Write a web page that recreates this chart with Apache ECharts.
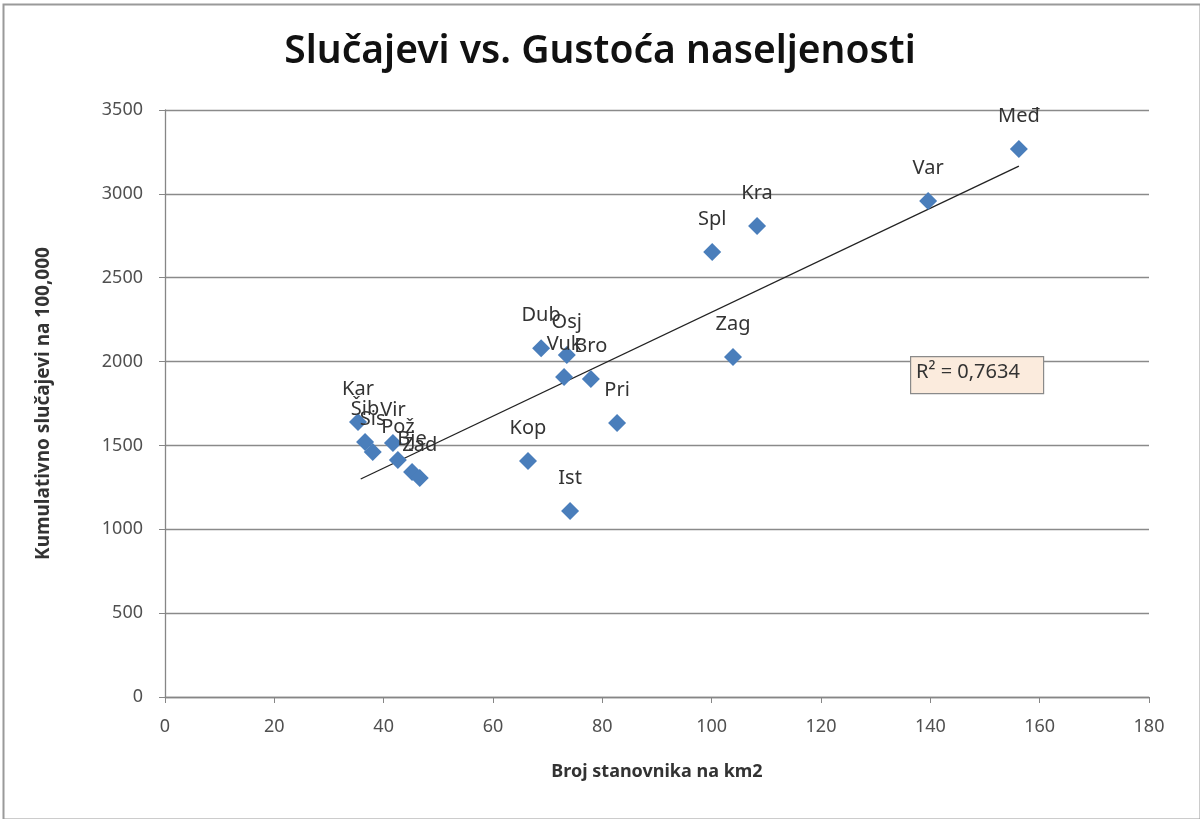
<!DOCTYPE html>
<html>
<head>
<meta charset="utf-8">
<script src="https://cdn.jsdelivr.net/npm/echarts@6/dist/echarts.min.js"></script>
<style>
html,body{margin:0;padding:0;background:#fff;}
#c{width:1200px;height:819px;}
</style>
</head>
<body>
<div id="c"></div>
<script>
const names   = ['Kar','Šib','Sis','Vir','Pož','Bje','Zad','Kop','Dub','Vuk','Osj','Ist','Bro','Pri','Spl','Zag','Kra','Var','Međ'];
const density = [35.3, 36.6, 38.0, 41.7, 42.6, 45.2, 46.6, 66.4, 68.8, 73.0, 73.5, 74.1, 77.9, 82.7, 100.1, 103.9, 108.3, 139.6, 156.2];
const cases   = [1640, 1520, 1461, 1515, 1413, 1342, 1306, 1407, 2080, 1908, 2039, 1109, 1896, 1634, 2653, 2027, 2808, 2957, 3267];
const trendX  = [35.8, 156.2];
const trendY  = [1300, 3165];
const xTicks  = [0, 20, 40, 60, 80, 100, 120, 140, 160, 180];
const yTicks  = [0, 500, 1000, 1500, 2000, 2500, 3000, 3500];
const r2Text  = 'R² = 0,7634';

const chart = echarts.init(document.getElementById('c'));
const font = 'Noto Sans';
const pts = names.map((n, i) => ({ name: n, value: [density[i], cases[i]] }));

chart.setOption({
  animation: false,
  backgroundColor: '#fff',
  title: {
    text: 'Slučajevi vs. Gustoća naseljenosti',
    left: 'center', top: 27,
    textStyle: { fontFamily: font, fontSize: 39, fontWeight: 600, color: '#111' }
  },
  grid: { left: 165, right: 51, top: 110, bottom: 122 },
  xAxis: {
    type: 'value', min: xTicks[0], max: xTicks[xTicks.length - 1], interval: 20,
    name: 'Broj stanovnika na km2', nameLocation: 'middle', nameGap: 66,
    nameTextStyle: { fontFamily: font, fontSize: 18, fontWeight: 'bold', color: '#333' },
    axisLine: { lineStyle: { color: '#868686', width: 1.3 } },
    axisTick: { show: true, length: 6, lineStyle: { color: '#868686' } },
    axisLabel: { fontFamily: font, fontSize: 18, color: '#505050', margin: 21, formatter: v => String(v) },
    splitLine: { show: false }
  },
  yAxis: {
    type: 'value', min: yTicks[0], max: yTicks[yTicks.length - 1], interval: 500,
    name: 'Kumulativno slučajevi na 100,000', nameLocation: 'middle', nameGap: 112,
    nameTextStyle: { fontFamily: font, fontSize: 19, fontWeight: 'bold', color: '#333' },
    axisLine: { show: true, lineStyle: { color: '#868686', width: 1.3 } },
    axisTick: { show: true, length: 6, lineStyle: { color: '#868686' } },
    axisLabel: { fontFamily: font, fontSize: 18, color: '#505050', margin: 22, formatter: v => String(v) },
    splitLine: { show: true, lineStyle: { color: '#8a8a8a', width: 1.3 } }
  },
  series: [
    {
      type: 'line',
      data: trendX.map((x, i) => [x, trendY[i]]),
      symbol: 'none',
      lineStyle: { color: '#222', width: 1.3 },
      z: 3, silent: true
    },
    {
      type: 'scatter',
      data: pts,
      symbol: 'diamond',
      symbolSize: [18, 18],
      itemStyle: { color: '#4a7ebb', opacity: 1 },
      label: {
        show: true, position: 'top', distance: 14,
        formatter: p => p.name,
        fontFamily: font, fontSize: 20, color: '#333'
      },
      labelLayout: { hideOverlap: false },
      z: 4
    }
  ],
  graphic: [
    {
      type: 'rect', left: 1, top: 2,
      shape: { width: 1197, height: 815 },
      style: { fill: 'none', stroke: '#9a9a9a', lineWidth: 2 },
      silent: true
    },
    {
      type: 'rect', left: 910, top: 356,
      shape: { width: 133, height: 37 },
      style: { fill: '#fbebdd', stroke: '#8a8a8a', lineWidth: 1.2 },
      z: 10
    },
    {
      type: 'text', left: 916, top: 362,
      style: { text: r2Text, fontFamily: font, fontSize: 20, fill: '#333' },
      z: 11
    }
  ]
});
</script>
</body>
</html>
